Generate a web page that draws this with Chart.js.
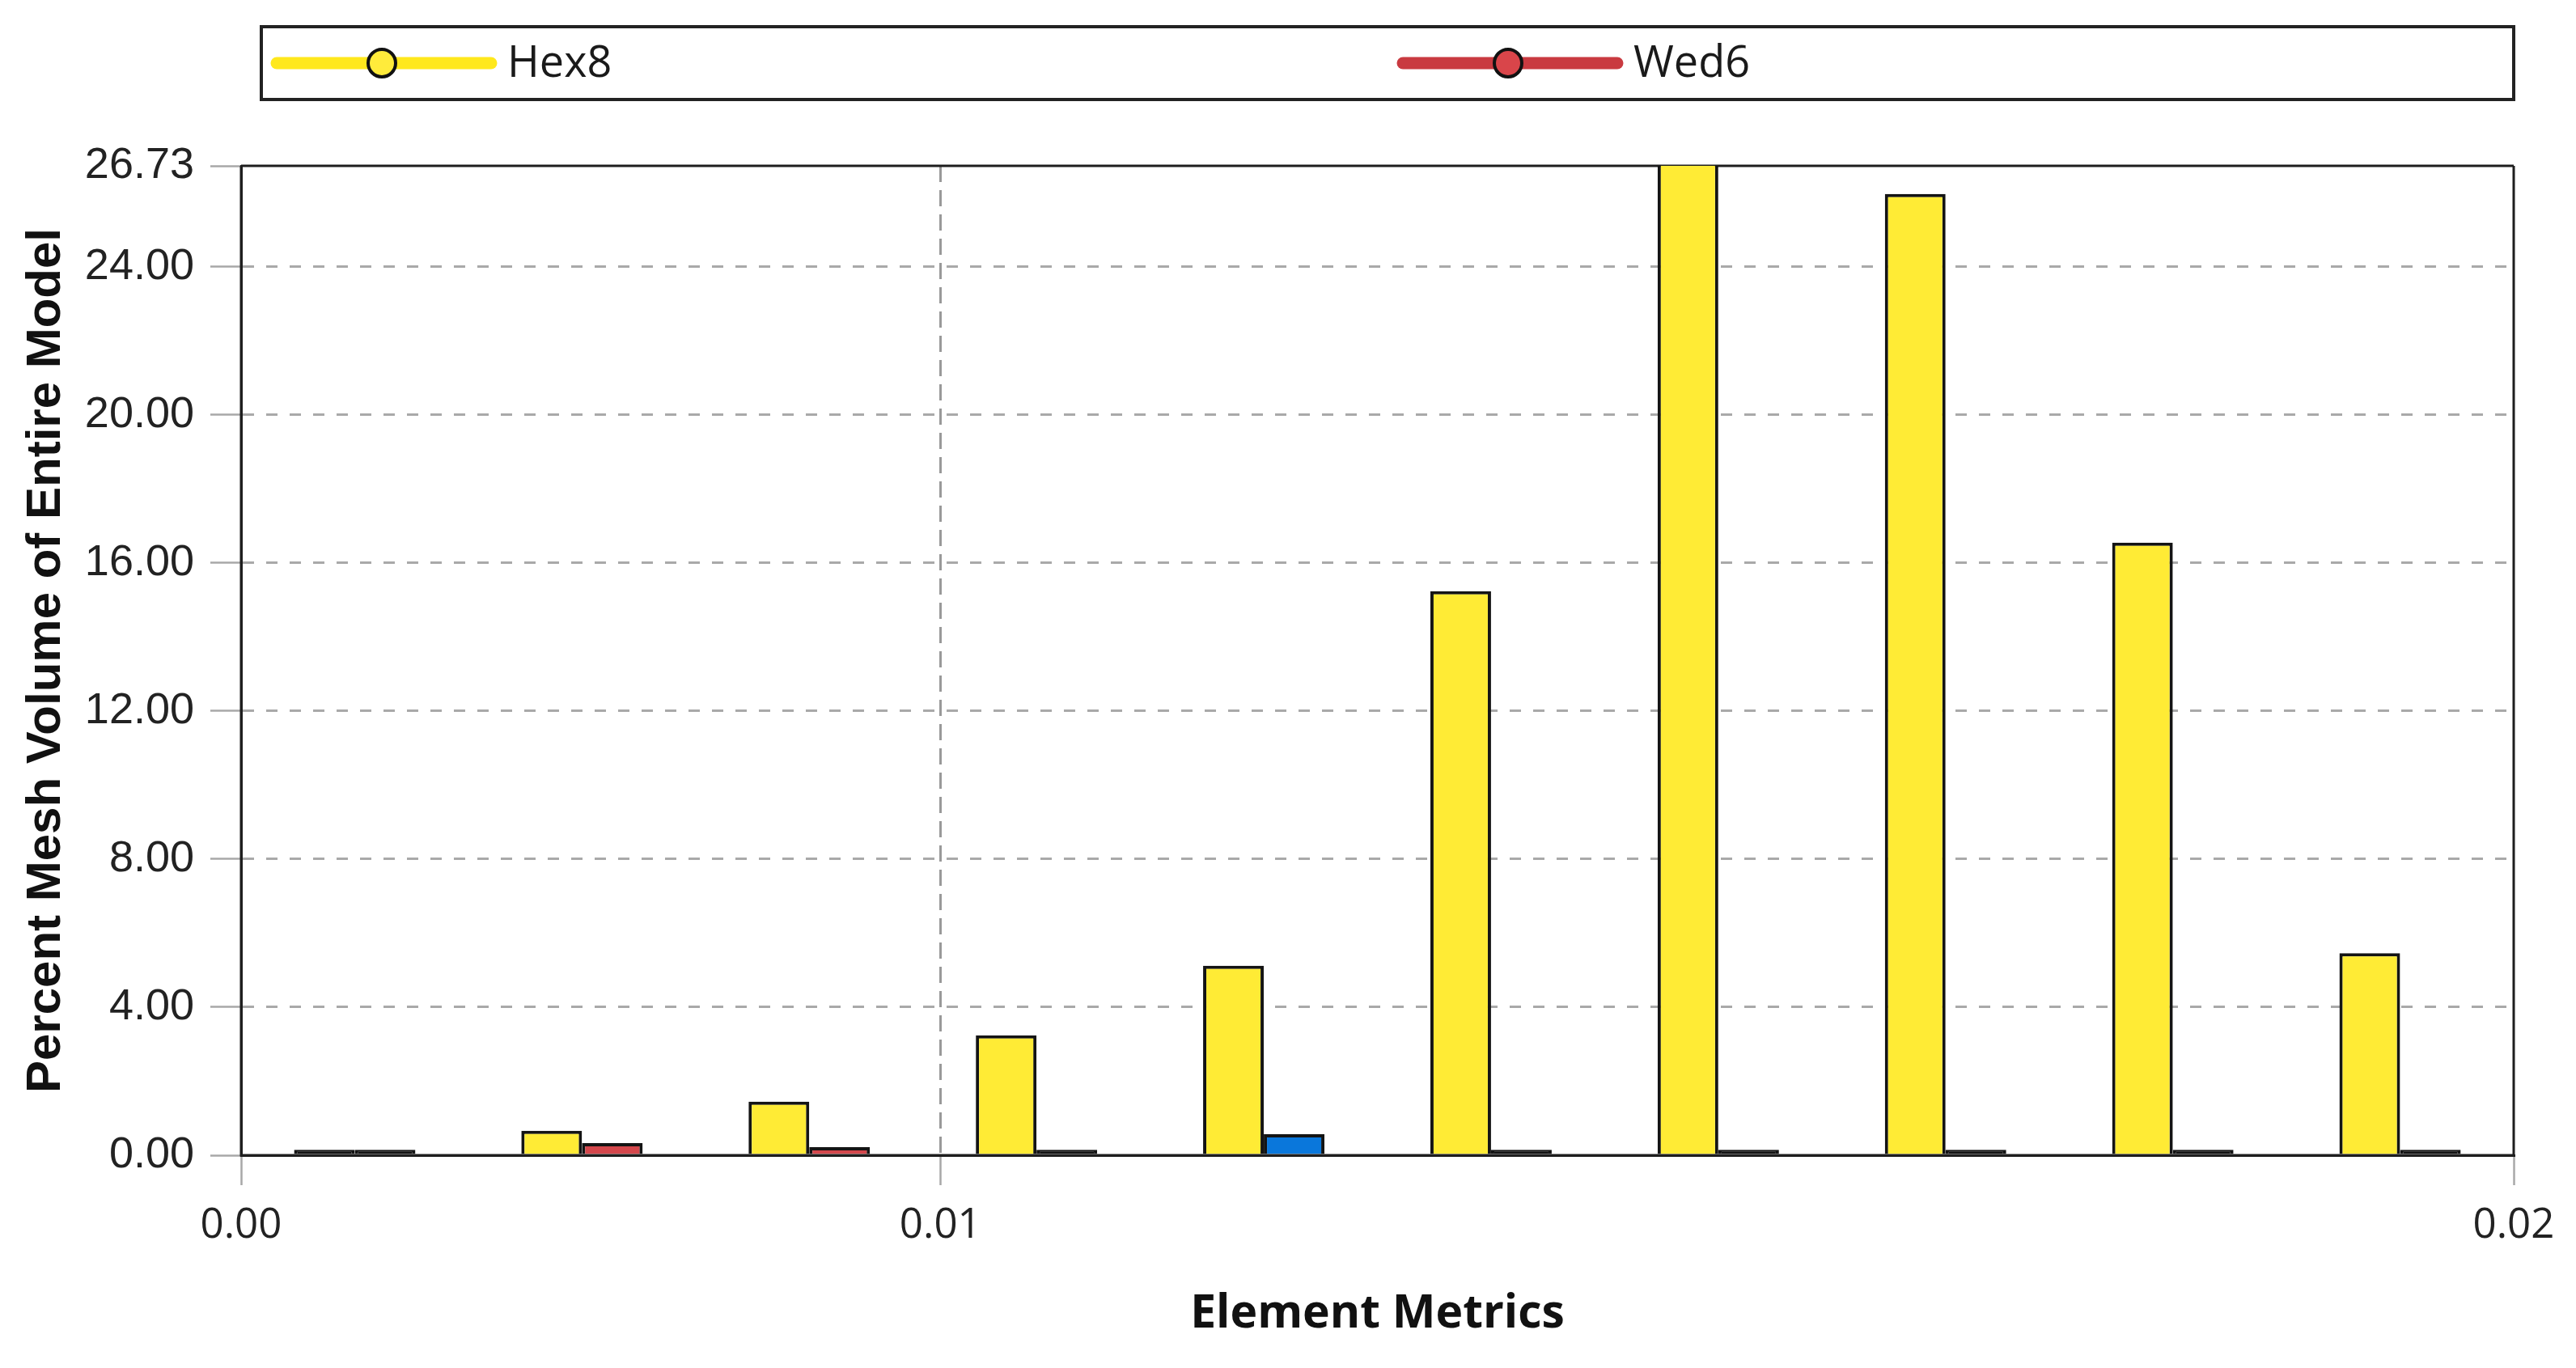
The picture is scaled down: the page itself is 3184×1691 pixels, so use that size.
<!DOCTYPE html>
<html>
<head>
<meta charset="utf-8">
<script src="https://cdn.jsdelivr.net/npm/chart.js@4.4.1/dist/chart.umd.min.js"></script>
<style>
  html, body { margin: 0; padding: 0; background: #fff; }
  canvas { display: block; }
</style>
</head>
<body>
<canvas id="chart" width="3184" height="1691"></canvas>
<script>
// mesh metric histogram, percent of model volume per bin
const bins = ['Bin 1', 'Bin 2', 'Bin 3', 'Bin 4', 'Bin 5', 'Bin 6', 'Bin 7', 'Bin 8', 'Bin 9', 'Bin 10'];
const hex8 = [0.15, 0.66, 1.45, 3.24, 5.12, 15.24, 26.73, 25.97, 16.55, 5.46];
const wed6 = [0.15, 0.33, 0.22, 0.15, 0.57, 0.15, 0.15, 0.15, 0.15, 0.15];

const yTicks = [0, 4, 8, 12, 16, 20, 24, 26.73];
const xMin = 0.0048;
const xMax = 0.0217;
const xTicks = [0.0048, 0.01, 0.0217];
const xTickLabels = ['0.00', '0.01', '0.02'];

const yMax = 26.73;
const blueBar = 4;

const legendStyle = {
	Hex8: { line: '#FFE81C', dot: '#FFEB3B' },
	Wed6: { line: '#C93A40', dot: '#D9454A' },
};

// tiny bars show up as just their outline
function fillFor(c, color) {
	return c.raw < 0.2 ? '#111' : color;
}

const frame = {
	id: 'frame',
	beforeDatasetsDraw(chart) {
		const { ctx, chartArea: a } = chart;
		ctx.save();
		ctx.strokeStyle = '#1e1e1e';
		ctx.lineWidth = 3;
		ctx.beginPath();
		ctx.moveTo(a.left, a.top);
		ctx.lineTo(a.right, a.top);
		ctx.stroke();
		ctx.restore();
	},
	afterDatasetsDraw(chart) {
		const { ctx, chartArea: a } = chart;
		ctx.save();
		ctx.strokeStyle = '#1e1e1e';
		ctx.lineWidth = 3;
		ctx.beginPath();
		ctx.moveTo(a.left, a.top);
		ctx.lineTo(a.left, a.bottom);
		ctx.lineTo(a.right, a.bottom);
		ctx.lineTo(a.right, a.top);
		ctx.stroke();
		ctx.restore();
	},
};

const boxLegend = {
	id: 'boxLegend',
	afterDraw(chart) {
		const { ctx, chartArea: a } = chart;
		const left = a.left + 25;
		const top = 33;
		const w = a.right - left;
		const h = 90;
		const cy = top + h / 2;
		ctx.save();
		ctx.strokeStyle = '#222';
		ctx.lineWidth = 4;
		ctx.strokeRect(left, top, w, h);
		const ds = chart.data.datasets;
		const colW = w / ds.length;
		ds.forEach((d, i) => {
			const st = legendStyle[d.label];
			const x0 = left + 19 + i * colW;
			ctx.strokeStyle = st.line;
			ctx.lineWidth = 15;
			ctx.lineCap = 'round';
			ctx.beginPath();
			ctx.moveTo(x0, cy);
			ctx.lineTo(x0 + 265, cy);
			ctx.stroke();
			ctx.beginPath();
			ctx.arc(x0 + 130, cy, 17, 0, Math.PI * 2);
			ctx.fillStyle = st.dot;
			ctx.fill();
			ctx.lineWidth = 4;
			ctx.strokeStyle = '#111';
			ctx.stroke();
			ctx.fillStyle = '#1a1a1a';
			ctx.font = '54px "Open Sans"';
			ctx.textBaseline = 'middle';
			ctx.fillText(d.label, x0 + 285, cy + 2);
		});
		ctx.restore();
	},
};

const ctx = document.getElementById('chart').getContext('2d');
const myChart = new Chart(ctx, {
	type: 'bar',
	data: {
		labels: bins,
		datasets: [
			{
				label: 'Hex8',
				data: hex8,
				backgroundColor: (c) => fillFor(c, '#FFEB35'),
				borderColor: '#141414',
				borderWidth: (c) => (c.raw >= yMax ? { left: 4, right: 4, top: 0, bottom: 0 } : 4),
				borderSkipped: 'start',
			},
			{
				label: 'Wed6',
				data: wed6,
				backgroundColor: (c) => fillFor(c, c.dataIndex === blueBar ? '#0A77DB' : '#D4474C'),
				borderColor: '#141414',
				borderWidth: 4,
				borderSkipped: 'start',
			},
		],
	},
	options: {
		responsive: false,
		animation: false,
		devicePixelRatio: 1,
		categoryPercentage: 0.534,
		barPercentage: 1,
		layout: { padding: { top: 205, right: 77, left: 0, bottom: 0 } },
		plugins: {
			legend: { display: false },
			tooltip: { enabled: false },
		},
		scales: {
			x: {
				type: 'category',
				display: false,
				offset: true,
			},
			x2: {
				type: 'linear',
				position: 'bottom',
				min: xMin,
				max: xMax,
				offset: false,
				afterBuildTicks: (s) => {
					s.ticks = xTicks.map((v) => ({ value: v }));
				},
				afterFit: (s) => {
					s.height = 263;
				},
				ticks: {
					autoSkip: false,
					maxRotation: 0,
					padding: 20,
					color: '#222',
					font: { family: 'Open Sans', size: 51 },
					callback: (v, i) => xTickLabels[i],
				},
				grid: {
					offset: false,
					color: (c) => (c.index === 1 ? '#999' : 'rgba(0,0,0,0)'),
					lineWidth: 3,
					tickColor: '#a8a8a8',
					tickBorderDash: [],
					tickLength: 37,
					tickWidth: 2.5,
				},
				border: { color: '#1e1e1e', width: 3, dash: [20, 10] },
				title: {
					display: true,
					text: 'Element Metrics',
					color: '#111',
					font: { family: 'Open Sans', size: 57, weight: 'bold' },
					padding: { top: 0, bottom: 32 },
				},
			},
			y: {
				min: 0,
				max: yMax,
				afterBuildTicks: (s) => {
					s.ticks = yTicks.map((v) => ({ value: v }));
				},
				afterFit: (s) => {
					s.width = 298;
				},
				ticks: {
					autoSkip: false,
					padding: 20,
					color: '#222',
					font: { family: 'Liberation Sans', size: 54 },
					callback: (v) => Number(v).toFixed(2),
				},
				grid: {
					color: (c) => (c.tick.value === 0 || c.tick.value === yMax ? 'rgba(0,0,0,0)' : '#a9a9a9'),
					lineWidth: 3,
					tickColor: '#a8a8a8',
					tickBorderDash: [],
					tickLength: 38,
					tickWidth: 2.5,
				},
				border: { color: '#1e1e1e', width: 3, dash: [14, 15] },
				title: {
					display: true,
					text: 'Percent Mesh Volume of Entire Model',
					color: '#111',
					font: { family: 'Liberation Sans', size: 60, weight: 'bold' },
					padding: { top: 21, bottom: 0 },
				},
			},
		},
	},
	plugins: [frame, boxLegend],
});
</script>
</body>
</html>
